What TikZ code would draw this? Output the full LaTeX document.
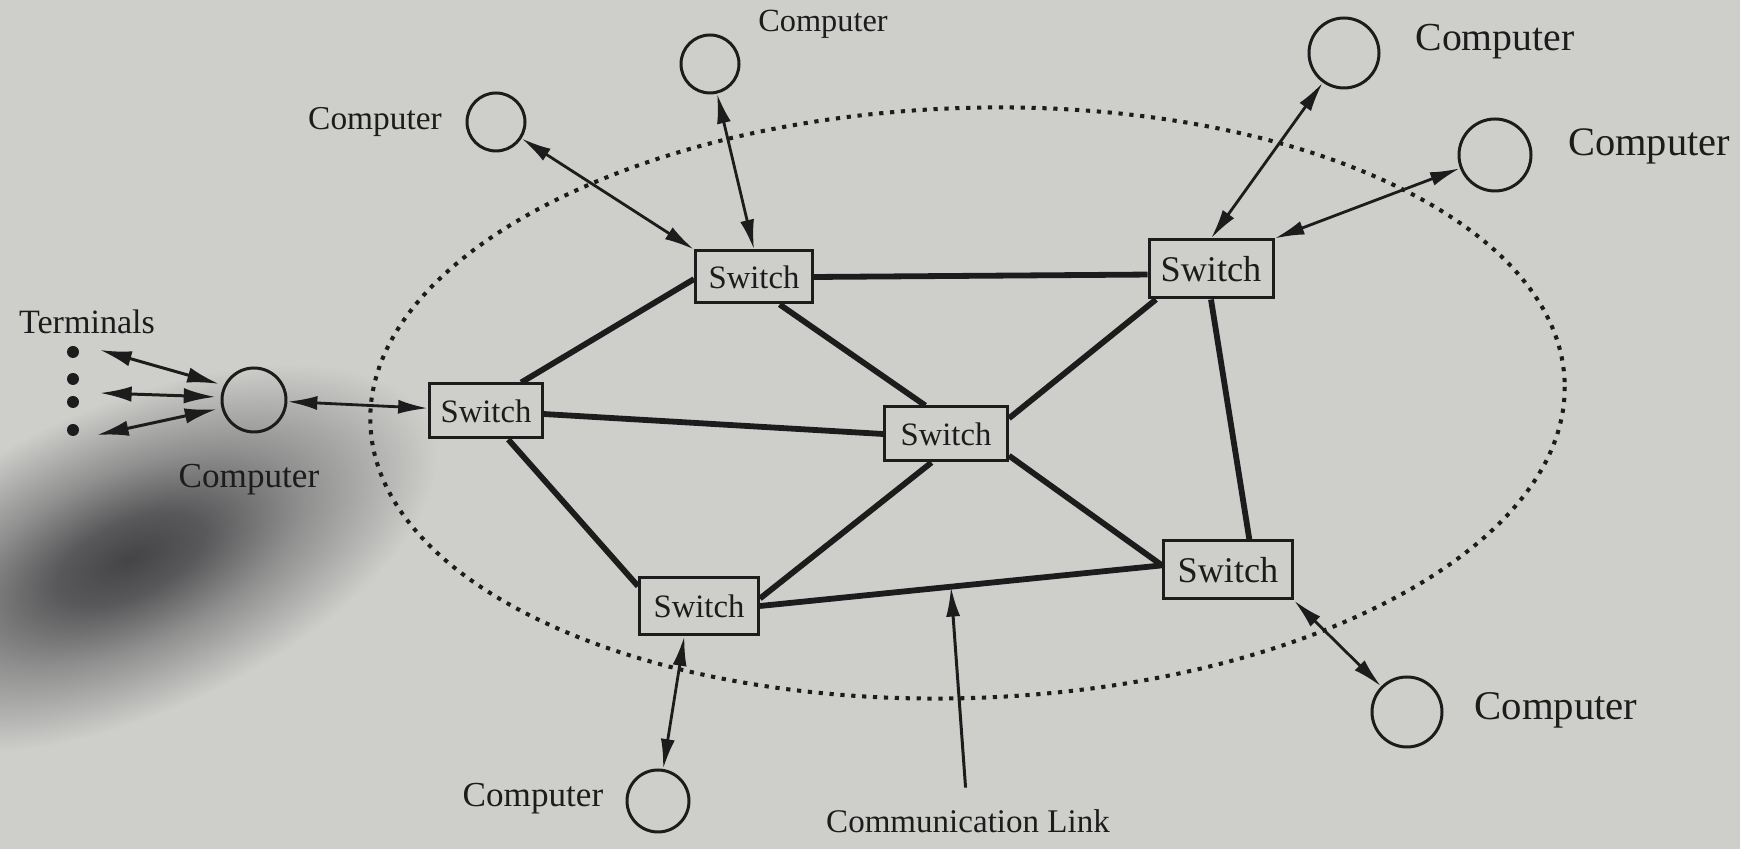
\documentclass[tikz,border=0pt]{standalone}
\usepackage{fontspec}
\setmainfont{Liberation Serif}
\usetikzlibrary{arrows.meta,calc}
\definecolor{paper}{RGB}{206,206,203}
\definecolor{shadow}{RGB}{68,68,71}
\definecolor{ink}{RGB}{28,28,28}
\pgfdeclareradialshading{blob}{\pgfpoint{0bp}{0bp}}{%
  color(0bp)=(shadow); color(6bp)=(shadow!85!paper);
  color(14bp)=(shadow!45!paper); color(25bp)=(paper); color(50bp)=(paper)}

\begin{document}
\begin{tikzpicture}[
  switchbox/.style={draw=ink, line width=0.85pt, rectangle, inner sep=0pt,
    text=ink, font=\fontsize{9.3}{11}\selectfont},
  host/.style={draw=ink, line width=0.85pt, circle, inner sep=0pt},
  term/.style={circle, fill=ink, inner sep=0pt, minimum size=0.12cm},
  lbl/.style={text=ink, inner sep=1pt},
  link/.style={draw=ink, line width=1.65pt},
  dup/.style={draw=ink, line width=0.8pt,
    {Latex[length=8.5pt,width=4pt]}-{Latex[length=8.5pt,width=4pt]}},
  dupbig/.style={draw=ink, line width=0.85pt,
    {Latex[length=9pt,width=4.4pt]}-{Latex[length=9pt,width=4.4pt]}},
  pointer/.style={draw=ink, line width=0.85pt, -{Latex[length=8.5pt,width=4pt]}},
  netedge/.style={draw=ink, line width=1.15pt, dash pattern=on 1.2pt off 1.9pt}
]
% page
\fill[paper] (0,0) rectangle (17.4,8.49);
\useasboundingbox (0,0) rectangle (17.4,8.49);
\shade[shading=blob, transform canvas={shift={(1.3,2.9)}, rotate=24}]
  (0,0) ellipse [x radius=3.3, y radius=1.55];

% subnet boundary
\draw[netedge, rotate around={2:(9.675,4.46)}] (9.675,4.46) ellipse [x radius=5.975, y radius=2.95];

% switches
\node[switchbox, minimum width=1.17cm, minimum height=0.52cm] (A) at (7.54,5.72) {Switch};
\node[switchbox, minimum width=1.23cm, minimum height=0.54cm] (B) at (9.46,4.15) {Switch};
\node[switchbox, minimum width=1.13cm, minimum height=0.54cm] (C) at (4.86,4.38) {Switch};
\node[switchbox, minimum width=1.19cm, minimum height=0.57cm] (D) at (6.99,2.43) {Switch};
\node[switchbox, minimum width=1.24cm, minimum height=0.58cm, font=\fontsize{10.3}{12}\selectfont] (E) at (12.11,5.80) {Switch};
\node[switchbox, minimum width=1.29cm, minimum height=0.58cm, font=\fontsize{10.3}{12}\selectfont] (F) at (12.28,2.79) {Switch};

% host computers
\node[host, minimum size=0.58cm] (c1) at (4.96,7.27) {};
\node[host, minimum size=0.58cm] (c2) at (7.10,7.85) {};
\node[host, minimum size=0.70cm] (c3) at (13.44,7.96) {};
\node[host, minimum size=0.72cm] (c4) at (14.95,6.94) {};
\node[host, minimum size=0.64cm] (c5) at (2.54,4.49) {};
\node[host, minimum size=0.62cm] (c6) at (6.58,0.48) {};
\node[host, minimum size=0.70cm] (c7) at (14.07,1.37) {};

% labels
\node[lbl, font=\fontsize{9.5}{11}\selectfont] (l1) at (3.75,7.27) {Computer};
\node[lbl, font=\fontsize{9.2}{11}\selectfont] (l2) at (8.23,8.25) {Computer};
\node[lbl, font=\fontsize{11.3}{13}\selectfont] (l3) at (14.95,8.07) {Computer};
\node[lbl, font=\fontsize{11.5}{13}\selectfont] (l4) at (16.49,7.03) {Computer};
\node[lbl, font=\fontsize{10}{12}\selectfont] (l5) at (2.49,3.69) {Computer};
\node[lbl, font=\fontsize{10}{12}\selectfont] (l6) at (5.33,0.50) {Computer};
\node[lbl, font=\fontsize{11.6}{13}\selectfont] (l7) at (15.56,1.39) {Computer};
\node[lbl, font=\fontsize{9.7}{11}\selectfont] (tl) at (0.87,5.27) {Terminals};
\node[lbl, font=\fontsize{9.4}{11}\selectfont] (cl) at (9.68,0.28) {Communication Link};

% terminals
\node[term] (d1) at (0.73,4.97) {};
\node[term] (d2) at (0.73,4.70) {};
\node[term] (d3) at (0.73,4.47) {};
\node[term] (d4) at (0.73,4.19) {};
\coordinate (t1) at (1.00,4.99);
\coordinate (t2) at (1.00,4.56);
\coordinate (t3) at (0.97,4.14);
\draw[dupbig, shorten >=1.5pt] (t1) -- (c5.154);
\draw[dupbig, shorten >=1.5pt] (t2) -- (c5.175);
\draw[dupbig, shorten >=1.5pt] (t3) -- (c5.194);

% trunk links between switches
\draw[link] (A.182) -- (C.39);
\draw[link] (A.east) -- (E.185);
\draw[link] (A.-47) -- (B.126);
\draw[link] (C.-3) -- (B.west);
\draw[link] (C.-52) -- (D.162);
\draw[link] (B.243) -- (D.7);
\draw[link] (B.14) -- (E.209);
\draw[link] (B.-19) -- (F.176);
\draw[link] (D.east) -- coordinate[pos=0.475] (lk) (F.176);
\draw[link] (E.south) -- (F.55);

% host access lines
\draw[dup] (c1) -- (A.north west);
\draw[dup] (c2) -- (A.north);
\draw[dup] (c3) -- (E.north);
\draw[dup] (c4) -- (E.north east);
\draw[dup] (c5) -- (C);
\draw[dup] (c6) -- (D.244);
\draw[dup] (c7) -- (F.south east);

% callout
\draw[pointer, shorten <=5pt] (cl) -- (lk);
\end{tikzpicture}
\end{document}
